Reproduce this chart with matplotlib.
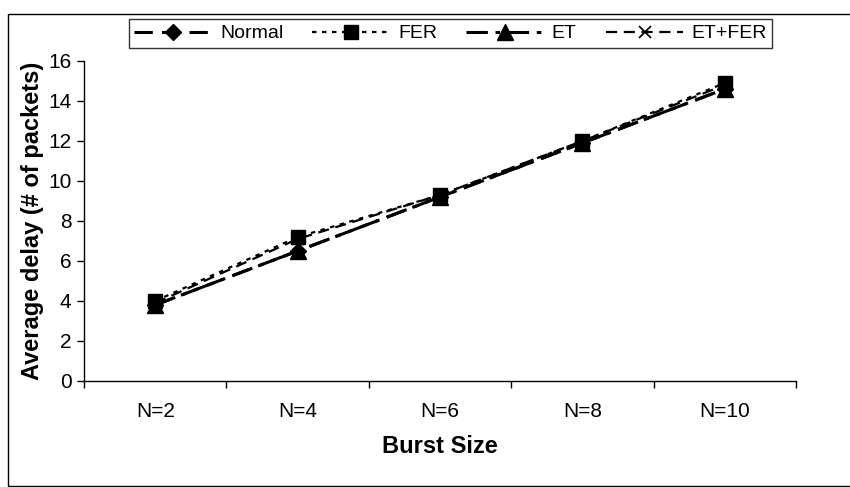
import matplotlib
matplotlib.use("Agg")
import matplotlib.pyplot as plt
from matplotlib.patches import Rectangle

plt.rcParams['font.family'] = ['Liberation Sans', 'DejaVu Sans']

categories = ["N=2", "N=4", "N=6", "N=8", "N=10"]
normal = [3.8, 6.5, 9.2, 11.9, 14.6]
fer = [4.0, 7.2, 9.3, 12.0, 14.9]
et = [3.8, 6.5, 9.2, 11.9, 14.6]
et_fer = [3.9, 7.1, 9.3, 12.0, 14.8]
yticks = [0, 2, 4, 6, 8, 10, 12, 14, 16]

fig = plt.figure(figsize=(8.5, 4.87), dpi=100)
ax = fig.add_axes([84/850, 1-381/487, (796-84)/850, (381-61)/487])

x = list(range(len(categories)))
ax.plot(x, normal, color='black', lw=2.2, ls=(0, (6, 3)), marker='D', ms=8, label='Normal')
ax.plot(x, fer, color='black', lw=1.6, ls=(0, (2, 2.5)), marker='s', ms=10, label='FER')
ax.plot(x, et, color='black', lw=2.2, ls=(0, (7, 2.5, 1.5, 2.5)), marker='^', ms=11, label='ET')
ax.plot(x, et_fer, color='black', lw=1.6, ls=(0, (5, 3)), marker='x', ms=9, mew=1.3, label='ET+FER')

ax.set_xlim(-0.5, len(categories)-0.5)
ax.set_ylim(0, 16)
ax.set_yticks(yticks)
ax.set_xticks(x)
ax.set_xticklabels(categories, fontsize=15)
ax.tick_params(axis='x', which='major', length=0, pad=15)
ax.set_xticks([i - 0.5 for i in range(len(categories)+1)], minor=True)
ax.tick_params(axis='x', which='minor', length=5, direction='out', width=1)
ax.tick_params(axis='y', labelsize=15, length=5, width=1, direction='out', pad=4)

ax.spines['top'].set_visible(False)
ax.spines['right'].set_visible(False)
ax.spines['left'].set_linewidth(1.0)
ax.spines['bottom'].set_linewidth(1.0)

ax.set_ylabel("Average delay (# of packets)", fontsize=17, fontweight='bold', labelpad=3)
ax.set_xlabel("Burst Size", fontsize=17, fontweight='bold', labelpad=10)

leg = fig.legend(loc='center', bbox_to_anchor=((123+778)/2/850, 1-33.5/487), ncol=4,
                 fontsize=14, frameon=True, fancybox=False, edgecolor='black',
                 handlelength=4.0, columnspacing=1.5, handletextpad=0.4, borderpad=0.3,
                 borderaxespad=0)
leg.get_frame().set_linewidth(1.0)

fig.patches.append(Rectangle((8/850, 1/487), 850/850, 1-14/487-1/487, transform=fig.transFigure,
                             fill=False, edgecolor='black', lw=1.0))

fig.savefig("out.png", dpi=100)
